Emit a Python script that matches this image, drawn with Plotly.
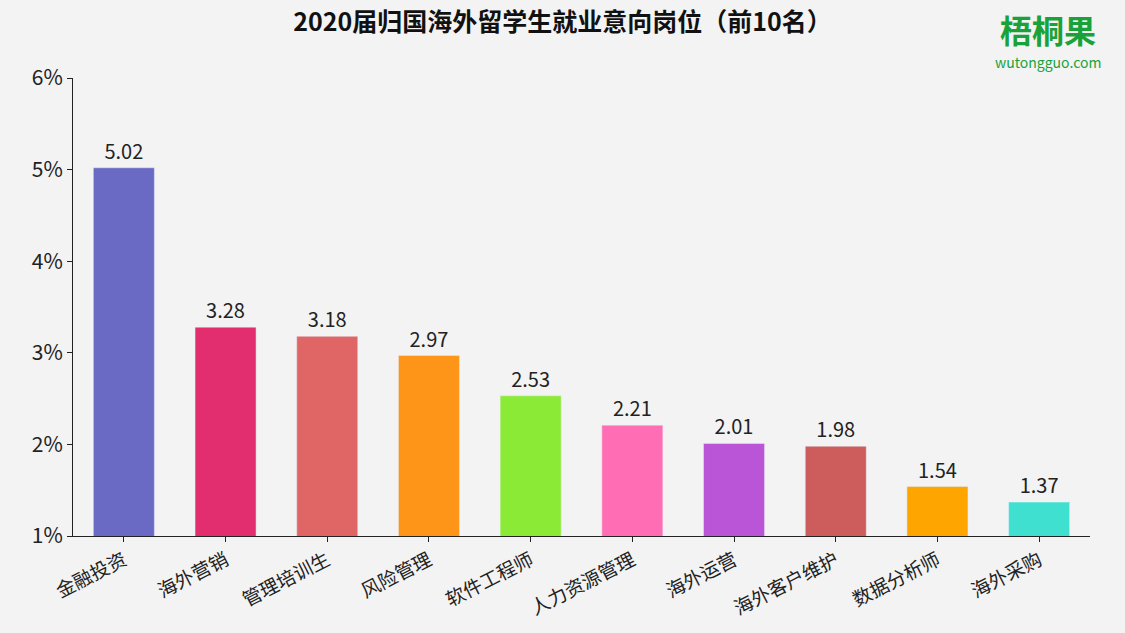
import plotly.graph_objects as go

categories = ["金融投资","海外营销","管理培训生","风险管理","软件工程师","人力资源管理","海外运营","海外客户维护","数据分析师","海外采购"]
values = [5.02,3.28,3.18,2.97,2.53,2.21,2.01,1.98,1.54,1.37]
colors = ["#6a6ac4","#e22d6e","#e06666","#ff9518","#8bea35","#ff6eb4","#b955d6","#cd5c5c","#ffa500","#40e0d0"]
tick_vals = [1,2,3,4,5,6]
tick_text = ["1%","2%","3%","4%","5%","6%"]

L, R, T, B = 73, 35, 78, 97
pw = 1125-L-R; ph = 633-T-B
def px(x, y):
    return (x-L)/pw, 1-(y-T)/ph

fig = go.Figure(go.Bar(
    x=categories, y=values, marker_color=colors, width=0.6,
    text=[f"{v:.2f}" for v in values], textposition="outside",
    textfont=dict(size=20, color="#222"), cliponaxis=False))
lx1, ly1 = px(1048, 29)
lx2, ly2 = px(1048, 62)
fig.update_layout(
    width=1125, height=633, paper_bgcolor="#f3f3f3", plot_bgcolor="#f3f3f3",
    margin=dict(l=L, r=R, t=T, b=B),
    font=dict(family="Noto Sans CJK SC", color="#222"),
    title=dict(text="<b>2020届归国海外留学生就业意向岗位（前10名）</b>", x=0.5, y=0.965,
               xanchor="center", yanchor="middle", font=dict(size=25, color="#111")),
    xaxis=dict(showline=True, linecolor="#222", ticks="outside", tickcolor="#222",
               tickangle=-27, tickfont=dict(size=19), showgrid=False),
    yaxis=dict(range=[1,6], tickvals=tick_vals, ticktext=tick_text, showline=True,
               linecolor="#222", ticks="outside", tickcolor="#222", showgrid=False,
               tickfont=dict(size=21), zeroline=False),
    showlegend=False,
    annotations=[
        dict(text="<b>梧桐果</b>", x=lx1, y=ly1, xref="paper", yref="paper", showarrow=False,
             xanchor="center", yanchor="middle", font=dict(size=32, color="#1aa23a")),
        dict(text="wutongguo.com", x=lx2, y=ly2, xref="paper", yref="paper", showarrow=False,
             xanchor="center", yanchor="middle", font=dict(size=14, color="#1aa23a")),
    ])
fig.write_html("out.html", config={"displayModeBar": False},
               post_script="document.body.style.margin='0';document.body.style.background='#f3f3f3';")
